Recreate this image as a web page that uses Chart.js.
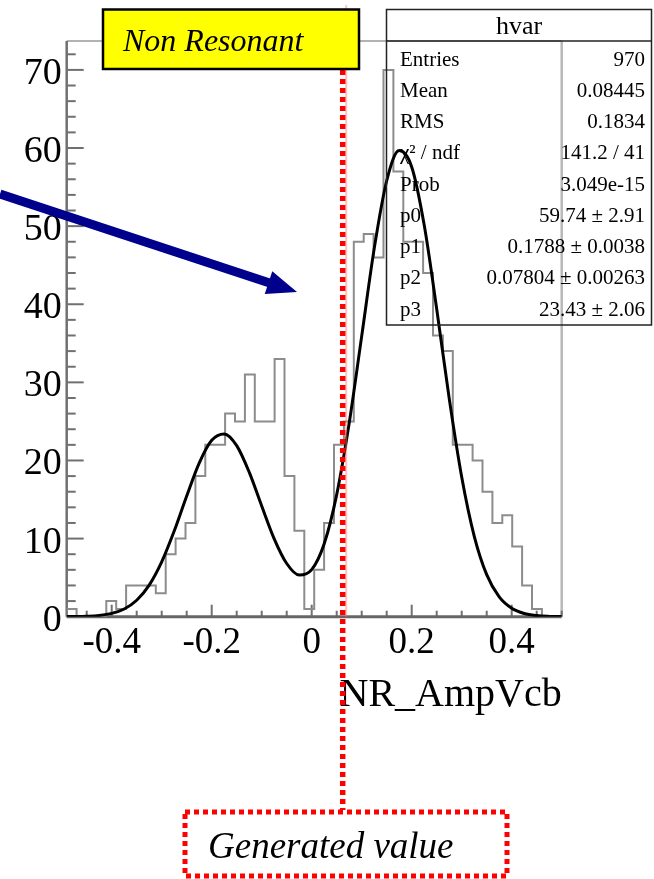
<!DOCTYPE html>
<html>
<head>
<meta charset="utf-8">
<script src="https://cdn.jsdelivr.net/npm/chart.js@4.4.1/dist/chart.umd.min.js"></script>
<style>
  html, body { margin: 0; padding: 0; background: #fff; }
  canvas { display: block; }
</style>
</head>
<body>
<canvas id="myChart" width="654" height="879"></canvas>
<script>
// hvar histogram: 50 bins from -0.49 to 0.50
var binLow = -0.49;
var binHigh = 0.50;
var binCounts = [1, 0, 0, 0, 2, 1, 4, 4, 4, 3,
                 8, 10, 12, 18, 22, 22, 26, 25, 31, 25,
                 25, 33, 18, 11, 1, 6, 12, 22, 25, 48,
                 49, 46, 70, 57, 48, 48, 44, 36, 34, 22,
                 22, 20, 16, 12, 13, 9, 4, 1, 0, 0];

// fit curve, values
var curveX = [-0.49, -0.475, -0.45, -0.425, -0.4, -0.375, -0.35, -0.325, -0.3, -0.275,
              -0.25, -0.225, -0.2, -0.175, -0.15, -0.125, -0.1, -0.075, -0.05, -0.025,
              0, 0.025, 0.05, 0.075, 0.1, 0.125, 0.15, 0.175, 0.2, 0.225,
              0.25, 0.275, 0.3, 0.325, 0.35, 0.375, 0.4, 0.425, 0.45, 0.475, 0.5];
var curveY = [0.01, 0.02, 0.06, 0.16, 0.42, 0.99, 2.11, 4.05, 7.02, 10.96,
              15.45, 19.66, 22.58, 23.40, 21.90, 18.50, 14.17, 9.97, 6.81, 5.33,
              6.03, 9.34, 15.63, 24.79, 35.92, 47.12, 55.81, 59.67, 57.58, 50.14,
              39.40, 27.95, 17.89, 10.33, 5.38, 2.53, 1.08, 0.41, 0.14, 0.04, 0.01];

var xTicks = [-0.4, -0.2, 0, 0.2, 0.4];
var yTicks = [0, 10, 20, 30, 40, 50, 60, 70];
var generatedValue = 0.062;

var statTitle = 'hvar';
var statNames = ['Entries', 'Mean', 'RMS', '\u03C7\u00B2 / ndf', 'Prob', 'p0', 'p1', 'p2', 'p3'];
var statValues = ['970', '0.08445', '0.1834', '141.2 / 41', '3.049e-15',
                  '59.74 \u00B1 2.91', '0.1788 \u00B1 0.0038', '0.07804 \u00B1 0.00263', '23.43 \u00B1 2.06'];

var serif = '"Liberation Serif", "Times New Roman", serif';

var binWidth = (binHigh - binLow) / binCounts.length;
var histPoints = [{x: binLow, y: 0}];
for (var i = 0; i < binCounts.length; i++) {
  histPoints.push({x: binLow + i * binWidth, y: binCounts[i]});
}
histPoints.push({x: binHigh, y: binCounts[binCounts.length - 1]});

var curvePoints = [];
for (var j = 0; j < curveX.length; j++) {
  curvePoints.push({x: curveX[j], y: curveY[j]});
}

var framePlugin = {
  id: 'frame',
  beforeDraw: function(chart) {
    var ctx = chart.ctx;
    ctx.save();
    ctx.fillStyle = '#fff';
    ctx.fillRect(0, 0, chart.width, chart.height);
    ctx.restore();
  },
  beforeDatasetsDraw: function(chart) {
    var ctx = chart.ctx, a = chart.chartArea;
    var xs = chart.scales.x, ys = chart.scales.y;
    ctx.save();
    // top and right frame
    ctx.strokeStyle = '#999';
    ctx.lineWidth = 1.5;
    ctx.beginPath(); ctx.moveTo(a.left, a.top); ctx.lineTo(a.right, a.top); ctx.stroke();
    ctx.strokeStyle = '#b8b8b8';
    ctx.lineWidth = 2.5;
    ctx.beginPath(); ctx.moveTo(a.right, a.top); ctx.lineTo(a.right, a.bottom); ctx.stroke();
    // y axis with inward ticks
    ctx.strokeStyle = '#707070';
    ctx.lineWidth = 2.5;
    ctx.beginPath(); ctx.moveTo(a.left, a.top); ctx.lineTo(a.left, a.bottom); ctx.stroke();
    ctx.lineWidth = 2;
    for (var v = 0; v <= ys.max; v += 2) {
      var py = ys.getPixelForValue(v);
      var len = (v % 10 === 0) ? 17 : 9;
      ctx.beginPath(); ctx.moveTo(a.left, py); ctx.lineTo(a.left + len, py); ctx.stroke();
    }
    // x axis with inward ticks
    for (var k = -9; k <= 10; k++) {
      var px = xs.getPixelForValue(k * 0.05);
      var tl = (k % 4 === 0) ? 12 : 6;
      ctx.beginPath(); ctx.moveTo(px, a.bottom); ctx.lineTo(px, a.bottom - tl); ctx.stroke();
    }
    ctx.strokeStyle = '#666';
    ctx.lineWidth = 3;
    ctx.beginPath(); ctx.moveTo(a.left, a.bottom); ctx.lineTo(a.right, a.bottom); ctx.stroke();
    ctx.restore();
  },
  afterDatasetsDraw: function(chart) {
    var ctx = chart.ctx, a = chart.chartArea;
    var xs = chart.scales.x;
    ctx.save();

    // stats box
    var bx = 386.5, by = 9.5, bw = 265, bh = 315.5;
    ctx.strokeStyle = '#222';
    ctx.lineWidth = 1.5;
    ctx.strokeRect(bx, by, bw, bh);
    ctx.beginPath(); ctx.moveTo(bx, a.top); ctx.lineTo(bx + bw, a.top); ctx.stroke();
    ctx.fillStyle = '#000';
    ctx.font = '26px ' + serif;
    ctx.textAlign = 'center';
    ctx.textBaseline = 'middle';
    ctx.fillText(statTitle, bx + bw / 2, 27);
    ctx.font = '21px ' + serif;
    for (var r = 0; r < statNames.length; r++) {
      var ry = 60 + r * 31.25;
      ctx.textAlign = 'left';
      ctx.fillText(statNames[r], 400, ry);
      ctx.textAlign = 'right';
      ctx.fillText(statValues[r], 645, ry);
    }

    // generated value line
    var gx = xs.getPixelForValue(generatedValue);
    ctx.strokeStyle = 'rgba(255,120,120,0.45)';
    ctx.lineWidth = 2;
    ctx.beginPath(); ctx.moveTo(gx + 3.5, 5); ctx.lineTo(gx + 3.5, a.bottom); ctx.stroke();
    ctx.strokeStyle = '#ff0000';
    ctx.lineWidth = 5.5;
    ctx.setLineDash([5, 4]);
    ctx.beginPath(); ctx.moveTo(gx, 70); ctx.lineTo(gx, 810); ctx.stroke();

    // generated value box
    ctx.lineWidth = 5;
    ctx.strokeRect(185, 812, 322, 64);
    ctx.setLineDash([]);
    ctx.fillStyle = '#000';
    ctx.font = 'italic 37px ' + serif;
    ctx.textAlign = 'left';
    ctx.textBaseline = 'alphabetic';
    ctx.fillText('Generated value', 208, 858);

    // non resonant label
    ctx.fillStyle = '#ffff00';
    ctx.fillRect(103, 9.5, 256, 59.5);
    ctx.strokeStyle = '#000';
    ctx.lineWidth = 2.5;
    ctx.strokeRect(103, 9.5, 256, 59.5);
    ctx.fillStyle = '#000';
    ctx.font = 'italic 32px ' + serif;
    ctx.fillText('Non Resonant', 123, 51);

    // blue arrow
    var x0 = 0, y0 = 194, x1 = 297, y1 = 292;
    var ang = Math.atan2(y1 - y0, x1 - x0);
    var hl = 30, hw = 12;
    var bxh = x1 - hl * Math.cos(ang), byh = y1 - hl * Math.sin(ang);
    ctx.strokeStyle = '#00008c';
    ctx.fillStyle = '#00008c';
    ctx.lineWidth = 9;
    ctx.beginPath(); ctx.moveTo(x0, y0); ctx.lineTo(bxh + 2 * Math.cos(ang), byh + 2 * Math.sin(ang)); ctx.stroke();
    ctx.beginPath();
    ctx.moveTo(x1, y1);
    ctx.lineTo(bxh + hw * Math.sin(ang), byh - hw * Math.cos(ang));
    ctx.lineTo(bxh - hw * Math.sin(ang), byh + hw * Math.cos(ang));
    ctx.closePath();
    ctx.fill();

    ctx.restore();
  }
};

var ctx = document.getElementById('myChart');
var myChart = new Chart(ctx, {
  type: 'line',
  data: {
    datasets: [{
      label: 'fit',
      data: curvePoints,
      borderColor: '#000',
      borderWidth: 3,
      pointRadius: 0,
      fill: false,
      cubicInterpolationMode: 'monotone'
    }, {
      label: 'hvar',
      data: histPoints,
      borderColor: '#8c8c8c',
      borderWidth: 2,
      pointRadius: 0,
      fill: false,
      stepped: 'before'
    }]
  },
  options: {
    responsive: false,
    devicePixelRatio: 1,
    animation: false,
    layout: {
      padding: {top: 41, right: 92.3, bottom: 0, left: 0}
    },
    plugins: {
      legend: {display: false},
      tooltip: {enabled: false},
      title: {display: false}
    },
    scales: {
      x: {
        type: 'linear',
        min: binLow,
        max: binHigh,
        grid: {display: false, drawTicks: false},
        border: {display: false},
        afterBuildTicks: function(scale) {
          scale.ticks = xTicks.map(function(v) { return {value: v}; });
        },
        afterFit: function(scale) { scale.height = 262.3; },
        ticks: {
          padding: 4,
          color: '#000',
          font: {family: serif, size: 37},
          maxRotation: 0,
          callback: function(v) { return v === 0 ? '0' : v.toFixed(1); }
        },
        title: {
          display: true,
          text: 'NR_AmpVcb',
          align: 'end',
          color: '#000',
          font: {family: serif, size: 40},
          padding: {top: 0, bottom: 160}
        }
      },
      y: {
        type: 'linear',
        min: 0,
        max: 73.7,
        grid: {display: false, drawTicks: false},
        border: {display: false},
        afterBuildTicks: function(scale) {
          scale.ticks = yTicks.map(function(v) { return {value: v}; });
        },
        afterFit: function(scale) { scale.width = 66.7; },
        ticks: {
          padding: 5,
          labelOffset: 4,
          color: '#000',
          font: {family: serif, size: 38}
        }
      }
    }
  },
  plugins: [framePlugin]
});
</script>
</body>
</html>
